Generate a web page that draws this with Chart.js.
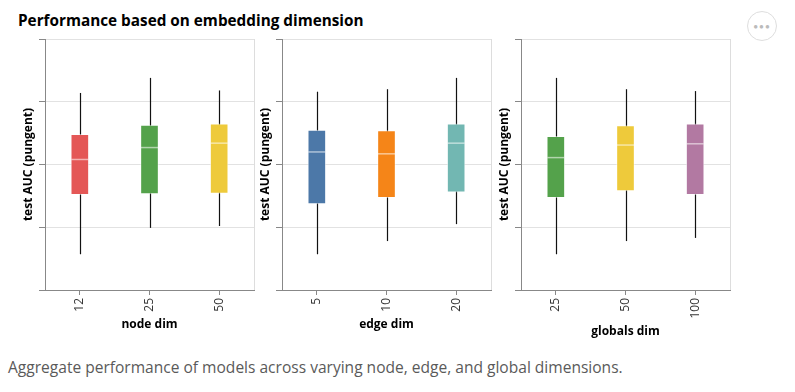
<!DOCTYPE html>
<html>
<head>
<meta charset="utf-8">
<script src="https://cdn.jsdelivr.net/npm/chart.js@4.4.1/dist/chart.umd.min.js"></script>
<style>
  html, body { margin: 0; padding: 0; background: #fff; }
  body { width: 795px; height: 392px; position: relative; overflow: hidden; font-family: 'Open Sans', sans-serif; }
  #title { position: absolute; left: 18px; top: 10px; font-size: 15.3px; font-weight: 700; color: #000; white-space: nowrap; }
  #caption { position: absolute; left: 8px; top: 356px; font-family: 'Open Sans', sans-serif; font-size: 15.55px; font-weight: 400; color: #5a5a5a; white-space: nowrap; }
  #menu { position: absolute; left: 747px; top: 11px; width: 30px; height: 30px; border: 1px solid #dedede; border-radius: 50%; box-sizing: border-box;
          color: #bbbbbb; font-size: 8px; line-height: 28px; text-align: center; letter-spacing: 1px; }
  .panel { position: absolute; top: 30px; width: 263px; height: 315px; }
</style>
</head>
<body>
<div id="title">Performance based on embedding dimension</div>
<div id="menu">&#9679;&#9679;&#9679;</div>
<div class="panel" style="left:0px"><canvas id="nodeChart"></canvas></div>
<div class="panel" style="left:237px"><canvas id="edgeChart"></canvas></div>
<div class="panel" style="left:476px"><canvas id="globalsChart"></canvas></div>
<div id="caption">Aggregate performance of models across varying node, edge, and global dimensions.</div>

<script>
// y-axis values (no labels are shown on the axis)
const yTicks = [0.6, 0.7, 0.8, 0.9, 1.0];

// node dim
const nodeDims = ['12', '25', '50'];
const nodeMin = [0.657, 0.699, 0.702];
const nodeQ1 = [0.752, 0.753, 0.754];
const nodeMed = [0.808, 0.827, 0.834];
const nodeQ3 = [0.848, 0.863, 0.865];
const nodeMax = [0.914, 0.938, 0.918];
const nodeColors = ['#e45756', '#54a24b', '#eeca3b'];

// edge dim
const edgeDims = ['5', '10', '20'];
const edgeMin = [0.657, 0.678, 0.705];
const edgeQ1 = [0.737, 0.747, 0.756];
const edgeMed = [0.820, 0.817, 0.834];
const edgeQ3 = [0.855, 0.854, 0.865];
const edgeMax = [0.916, 0.920, 0.938];
const edgeColors = ['#4c78a8', '#f58518', '#72b7b2'];

// globals dim
const globalsDims = ['25', '50', '100'];
const globalsMin = [0.657, 0.678, 0.683];
const globalsQ1 = [0.747, 0.758, 0.752];
const globalsMed = [0.811, 0.831, 0.833];
const globalsQ3 = [0.845, 0.862, 0.865];
const globalsMax = [0.938, 0.920, 0.917];
const globalsColors = ['#54a24b', '#eeca3b', '#b279a2'];

const FONT = "'Open Sans', sans-serif";

// whiskers, medians and the right frame line
const boxExtras = {
    id: 'boxExtras',
    beforeDatasetsDraw(chart, args, opts) {
        const { ctx, chartArea } = chart;
        const xs = chart.scales.x, ys = chart.scales.y;
        ctx.save();
        ctx.lineWidth = 1;
        // right edge of the plot frame
        const rx = Math.round(chartArea.right) + 0.5;
        ctx.strokeStyle = '#dddddd';
        ctx.beginPath();
        ctx.moveTo(rx, chartArea.top);
        ctx.lineTo(rx, chartArea.bottom);
        ctx.stroke();
        // whiskers (min to max), drawn behind the boxes
        ctx.strokeStyle = '#111111';
        ctx.lineWidth = 1.2;
        opts.mins.forEach((lo, i) => {
            const x = Math.round(xs.getPixelForValue(i)) + 0.5;
            ctx.beginPath();
            ctx.moveTo(x, ys.getPixelForValue(lo));
            ctx.lineTo(x, ys.getPixelForValue(opts.maxs[i]));
            ctx.stroke();
        });
        ctx.restore();
    },
    afterDatasetsDraw(chart, args, opts) {
        const { ctx } = chart;
        const xs = chart.scales.x, ys = chart.scales.y;
        ctx.save();
        ctx.strokeStyle = 'rgba(255,255,255,0.55)';
        ctx.lineWidth = 1.5;
        opts.medians.forEach((m, i) => {
            const x = xs.getPixelForValue(i);
            const y = ys.getPixelForValue(m);
            ctx.beginPath();
            ctx.moveTo(x - 8.5, y);
            ctx.lineTo(x + 8.5, y);
            ctx.stroke();
        });
        ctx.restore();
    }
};

function makeBoxChart(id, labels, mins, q1s, meds, q3s, maxs, colors, xTitle, titlePad) {
    const ctx = document.getElementById(id).getContext('2d');
    return new Chart(ctx, {
        type: 'bar',
        data: {
            labels: labels,
            datasets: [{
                label: 'box',
                data: labels.map((_, i) => [q1s[i], q3s[i]]),
                backgroundColor: colors,
                borderColor: 'rgba(255,255,255,0.5)',
                borderWidth: 1,
                borderSkipped: false,
                barThickness: 18
            }]
        },
        options: {
            responsive: true,
            maintainAspectRatio: false,
            animation: false,
            layout: { padding: { left: 17, right: 9, top: 9, bottom: 0 } },
            plugins: {
                legend: { display: false },
                tooltip: { enabled: false },
                boxExtras: { medians: meds, mins: mins, maxs: maxs }
            },
            scales: {
                x: {
                    offset: true,
                    grid: { offset: false, drawOnChartArea: false, drawTicks: true, tickLength: 5, tickColor: '#888888' },
                    border: { color: '#888888' },
                    ticks: { minRotation: 90, maxRotation: 90, padding: 3, color: '#333333', font: { family: FONT, size: 12 } },
                    title: { display: true, text: xTitle, color: '#000000', padding: { top: 0, bottom: titlePad }, font: { family: FONT, size: 12, weight: 'bold' } },
                    afterFit(scale) { scale.height = 55; }
                },
                y: {
                    min: yTicks[0],
                    max: yTicks[yTicks.length - 1],
                    afterBuildTicks(scale) { scale.ticks = yTicks.map(v => ({ value: v })); },
                    grid: {
                        color: (c) => c.index === 0 ? 'rgba(0,0,0,0)' : '#e2e2e2',
                        tickColor: '#888888',
                        tickLength: 6
                    },
                    border: { color: '#888888' },
                    ticks: { display: false },
                    title: { display: true, text: 'test AUC (pungent)', color: '#000000', padding: { top: 4, bottom: 0 }, font: { family: FONT, size: 12, weight: 'bold' } },
                    afterFit(scale) { scale.width = 28; }
                }
            }
        },
        plugins: [boxExtras]
    });
}

makeBoxChart('nodeChart', nodeDims, nodeMin, nodeQ1, nodeMed, nodeQ3, nodeMax, nodeColors, 'node dim', 12.8);
makeBoxChart('edgeChart', edgeDims, edgeMin, edgeQ1, edgeMed, edgeQ3, edgeMax, edgeColors, 'edge dim', 12.8);
makeBoxChart('globalsChart', globalsDims, globalsMin, globalsQ1, globalsMed, globalsQ3, globalsMax, globalsColors, 'globals dim', 6.1);
</script>
</body>
</html>
